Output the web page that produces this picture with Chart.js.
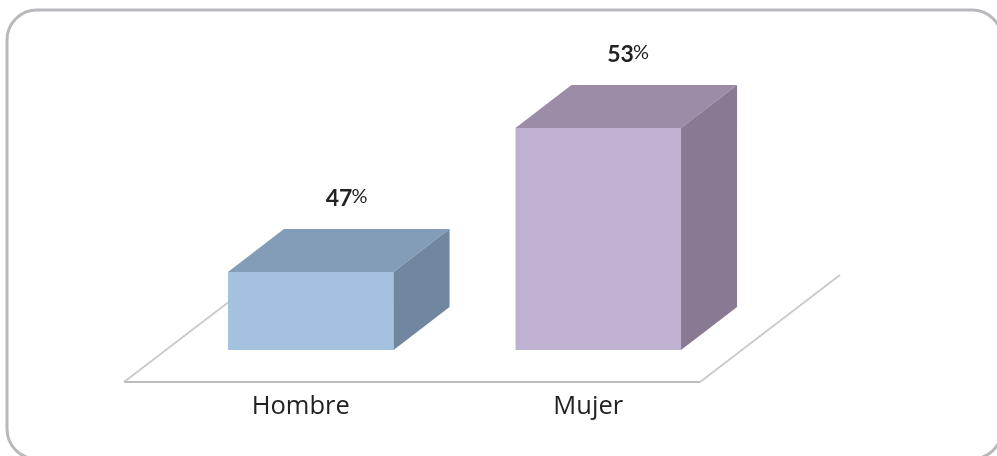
<!DOCTYPE html>
<html>
<head>
<meta charset="utf-8">
<style>
  html, body { margin: 0; padding: 0; background: #fff; overflow: hidden; }
  #wrap { position: relative; width: 997px; height: 456px; }
</style>
<script src="https://cdn.jsdelivr.net/npm/chart.js@4/dist/chart.umd.min.js"></script>
</head>
<body>
<div id="wrap"><canvas id="generoChart"></canvas></div>
<script>
const categories = ['Hombre', 'Mujer']
const percentages = [47, 53]
const frontColors = ['#a5c1e0', '#bfb2d1']
const topColors = ['#839cb8', '#9b8ca8']
const sideColors = ['#71869f', '#877a92']

// fake 3D depth, in pixels
const depthX = 56
const depthY = 43
// the value labels are not centred the same way on both bars
const labelShift = [15, 9]

const fakeBoxes = {
  id: 'fakeBoxes',
  beforeDraw(chart) {
    // rounded frame, it runs off the right and bottom of the picture
    const { ctx, width, height } = chart
    ctx.save()
    ctx.strokeStyle = '#b9b9bd'
    ctx.lineWidth = 3
    ctx.beginPath()
    ctx.roundRect(7, 10, width - 2, height - 7, 30)
    ctx.stroke()
    ctx.restore()
  },
  beforeDatasetsDraw(chart) {
    // floor of the chart, under the bars
    const { ctx, chartArea } = chart
    const { left, right, bottom } = chartArea
    const frontY = bottom + 32
    const backY = bottom - 75
    ctx.save()
    ctx.strokeStyle = '#cbcbcb'
    ctx.lineWidth = 2
    ctx.beginPath()
    ctx.moveTo(left - 43, frontY)
    ctx.lineTo(left + 97, backY)
    ctx.moveTo(right - 42, frontY)
    ctx.lineTo(right + 98, backY)
    ctx.stroke()
    ctx.strokeStyle = '#bdbdbd'
    ctx.lineWidth = 2
    ctx.beginPath()
    ctx.moveTo(left - 43, frontY)
    ctx.lineTo(right - 42, frontY)
    ctx.stroke()
    ctx.restore()
  },
  afterDatasetsDraw(chart) {
    const { ctx, chartArea } = chart
    chart.getDatasetMeta(0).data.forEach((bar, i) => {
      const x0 = bar.x - bar.width / 2
      const x1 = bar.x + bar.width / 2
      const y0 = bar.y
      const y1 = chartArea.bottom

      ctx.fillStyle = topColors[i]
      ctx.beginPath()
      ctx.moveTo(x0, y0)
      ctx.lineTo(x0 + depthX, y0 - depthY)
      ctx.lineTo(x1 + depthX, y0 - depthY)
      ctx.lineTo(x1, y0)
      ctx.closePath()
      ctx.fill()

      ctx.fillStyle = sideColors[i]
      ctx.beginPath()
      ctx.moveTo(x1, y0)
      ctx.lineTo(x1 + depthX, y0 - depthY)
      ctx.lineTo(x1 + depthX, y1 - depthY)
      ctx.lineTo(x1, y1)
      ctx.closePath()
      ctx.fill()

      // value label, the % sign is lighter than the digits
      const labelX = bar.x + labelShift[i]
      const labelY = y0 - 66
      ctx.fillStyle = '#222'
      ctx.textBaseline = 'alphabetic'
      ctx.textAlign = 'left'
      ctx.font = 'bold 23px Lato'
      const num = String(percentages[i])
      ctx.fillText(num, labelX, labelY)
      const numWidth = ctx.measureText(num).width
      ctx.font = '20px "Liberation Sans Narrow", Lato'
      ctx.fillText('%', labelX + numWidth - 1, labelY - 3)
    })
  }
}

new Chart(document.getElementById('generoChart'), {
  type: 'bar',
  data: {
    labels: categories,
    datasets: [
      {
        data: percentages,
        backgroundColor: frontColors,
        borderWidth: 0,
        barPercentage: 0.576,
        categoryPercentage: 1
      }
    ]
  },
  options: {
    responsive: true,
    maintainAspectRatio: false,
    animation: false,
    layout: { padding: { left: 167, right: 255, top: 8, bottom: 0 } },
    plugins: {
      legend: { display: false },
      title: { display: false },
      tooltip: { enabled: false }
    },
    scales: {
      x: {
        grid: { display: false },
        border: { display: false },
        afterFit(scale) {
          scale.height = 106
        },
        ticks: {
          color: '#222',
          font: { family: 'Open Sans', size: 25.5 },
          padding: 33,
          labelOffset: -10,
          maxRotation: 0
        }
      },
      y: {
        display: false,
        min: 43.75,
        max: 58
      }
    }
  },
  plugins: [fakeBoxes]
})
</script>
</body>
</html>
